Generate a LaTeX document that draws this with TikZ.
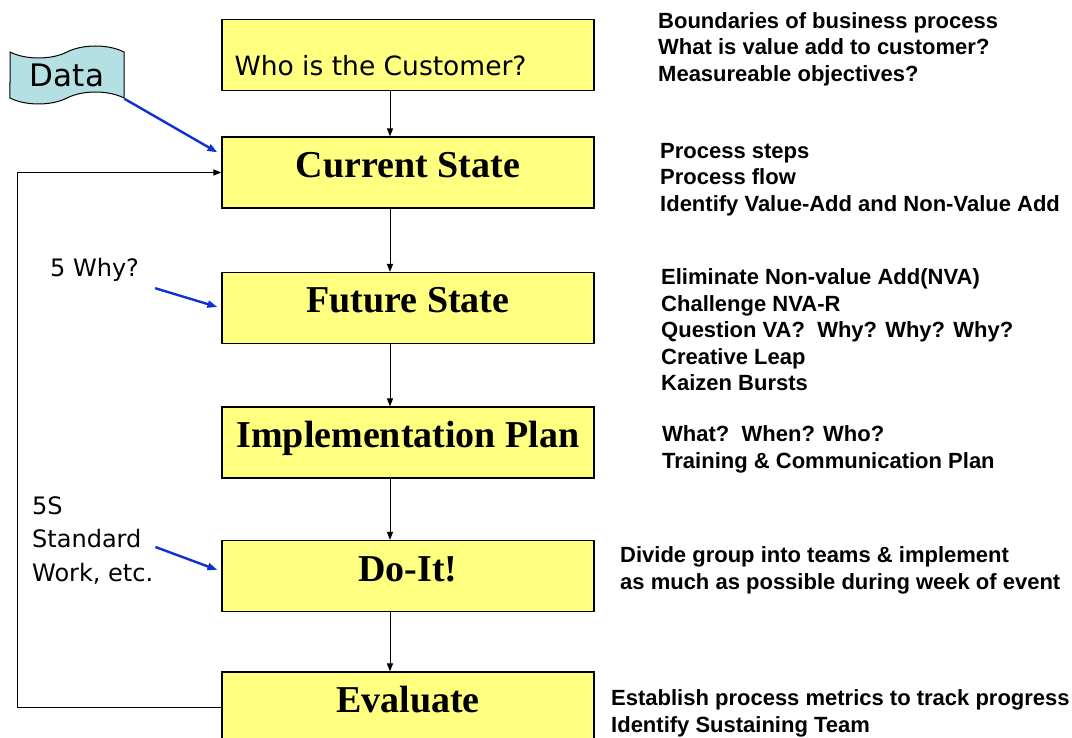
\documentclass[tikz,border=0pt]{standalone}
\usepackage{fontspec}
\setmainfont{Liberation Serif}
\newfontfamily\infofont{Liberation Sans}
\newfontfamily\plainfont{DejaVu Sans}
\usepackage{tikz}
\usetikzlibrary{positioning,arrows.meta,shapes.symbols,calc}
\definecolor{kaizenYellow}{RGB}{255,255,128}
\definecolor{kaizenTape}{RGB}{180,224,228}
\definecolor{kaizenBlue}{RGB}{16,48,208}
\tikzset{
  kaizen/step/.style={draw, line width=1.2pt, fill=kaizenYellow, minimum width=372pt,
                      minimum height=71pt, inner sep=0pt, text height=27pt, text depth=17pt,
                      font=\fontsize{38}{44}\selectfont\bfseries},
  % base anchor of a multi-line node sits on its last line
  kaizen/info/.style={anchor=base west, align=left, inner sep=0pt,
                      font=\infofont\bfseries\fontsize{22}{26.5}\selectfont},
  kaizen/note/.style={anchor=base west, align=left, inner sep=0pt,
                      font=\plainfont\fontsize{24}{33.5}\selectfont},
  kaizen/flow/.style={-{Triangle[length=8pt,width=6pt]}, line width=1pt, draw=black},
  kaizen/feed/.style={-{Triangle[length=10pt,width=7pt]}, line width=2.4pt, draw=kaizenBlue},
}

\begin{document}
\begin{tikzpicture}[x=1pt,y=-1pt]
  \useasboundingbox (0,0) rectangle (1072,738);

  % ---------------- process column ----------------
  \node[kaizen/step] (who) at (408,55) {};
  \node[anchor=base west, inner sep=0pt, font=\plainfont\fontsize{26.5}{30}\selectfont]
    (whotxt) at ($(who.west)+(13,21)$) {Who is the Customer?};
  \node[kaizen/step] (cur)  at (408,172.5) {Current State};
  \node[kaizen/step] (fut)  at (408,308)   {Future State};
  \node[kaizen/step] (impl) at (408,442.5) {Implementation Plan};
  \node[kaizen/step] (doit) at (408,576)   {Do-It!};
  \node[kaizen/step] (eval) at (408,707.5) {Evaluate};

  \foreach \a/\b in {who/cur, cur/fut, fut/impl, impl/doit, doit/eval}
    \draw[kaizen/flow] ([xshift=-18pt]\a.south) -- ([xshift=-18pt]\b.north);

  % loop back from Evaluate to Current State
  \coordinate (lbot) at (17,0 |- eval.west);
  \coordinate (ltop) at (17,0 |- cur.west);
  \draw[kaizen/flow] (eval.west) -- (lbot) -- (ltop) -- (cur.west);

  % ---------------- inputs on the left ----------------
  \node[tape, draw, line width=1pt, fill=kaizenTape, minimum width=114pt,
        minimum height=58pt, tape bend height=12pt, inner sep=0pt,
        font=\plainfont\fontsize{31}{36}\selectfont] (data) at (67,75) {Data};
  \draw[kaizen/feed] (data.south east) -- ($(cur.north west)+(-4,16)$);

  \node[kaizen/note] (why) at (50,277) {5 Why?};
  \draw[kaizen/feed] ($(why.south east)+(16,6)$) -- ($(fut.west)+(-4,-1)$);

  \node[kaizen/note] (std) at (32,581) {5S\\Standard\\Work, etc.};
  \draw[kaizen/feed] ($(std.east)+(2,7)$) -- ($(doit.west)+(-4,-6)$);

  % ---------------- notes on the right ----------------
  \node[kaizen/info] (whoinfo) at (658,81.5)
    {Boundaries of business process\\What is value add to customer?\\Measureable objectives?};
  \node[kaizen/info] (curinfo) at (660,211.5)
    {Process steps\\Process flow\\Identify Value-Add and Non-Value Add};
  \node[kaizen/info] (futinfo) at (661,390.5)
    {Eliminate Non-value Add(NVA)\\Challenge NVA-R\\Question VA?~~Why? Why? Why?\\Creative Leap\\Kaizen Bursts};
  \node[kaizen/info] (implinfo) at (662,468)
    {What?~~When? Who?\\Training \& Communication Plan};
  \node[kaizen/info] (doinfo) at (620,589)
    {Divide group into teams \& implement\\as much as possible during week of event};
  \node[kaizen/info] (evalinfo) at (611,732)
    {Establish process metrics to track progress\\Identify Sustaining Team};

\end{tikzpicture}
\end{document}
